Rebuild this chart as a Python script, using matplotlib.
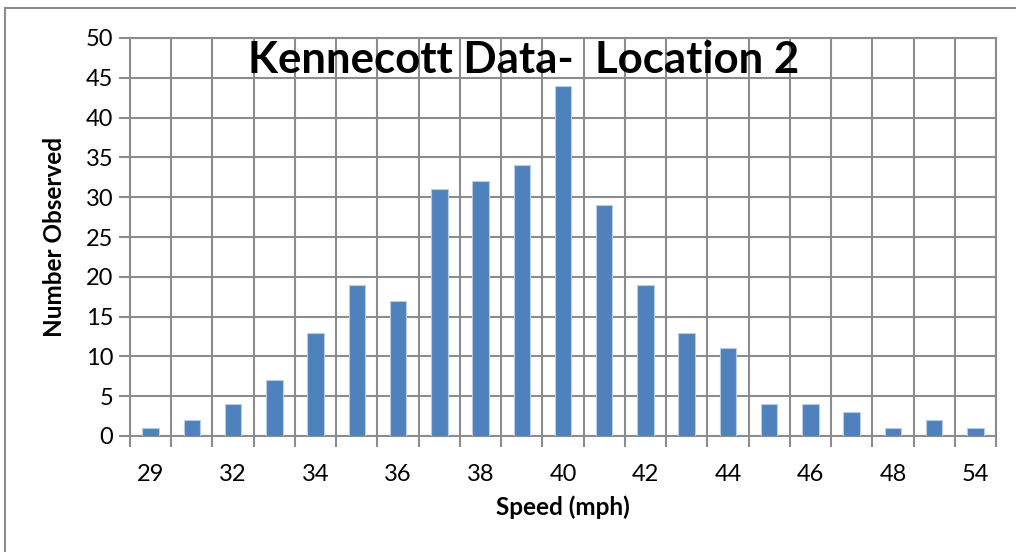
import numpy as np
import matplotlib
matplotlib.use("Agg")
import matplotlib.pyplot as plt
from matplotlib.patches import Rectangle

speeds = [29, 31, 32, 33, 34, 35, 36, 37, 38, 39, 40, 41, 42, 43, 44, 45, 46, 47, 48, 50, 54]
counts = [1, 2, 4, 7, 13, 19, 17, 31, 32, 34, 44, 29, 19, 13, 11, 4, 4, 3, 1, 2, 1]
shown_labels = ['29', '', '32', '', '34', '', '36', '', '38', '', '40', '', '42', '', '44', '', '46', '', '48', '', '54']

plt.rcParams['font.family'] = ['Lato', 'DejaVu Sans']
grid_col = '#8c8c8c'

fig = plt.figure(figsize=(10.16, 5.52), dpi=100)
ax = fig.add_axes([130 / 1016, 1 - 436 / 552, (996 - 130) / 1016, (436 - 38) / 552])

# outer chart border
fig.patches.append(Rectangle((5 / 1016, -0.1), 1.2, 1 - 8 / 552 + 0.1, transform=fig.transFigure,
                             fill=False, edgecolor='#8c8c8c', linewidth=1.5))

index = np.arange(len(speeds))
ax.bar(index, counts, 0.4, color='#4F81BD', edgecolor='#b9cde5', linewidth=0.8, zorder=3)

ax.set_xlim(-0.5, len(speeds) - 0.5)
ax.set_ylim(0, 50)
ax.set_yticks(np.arange(0, 51, 5))
ax.tick_params(axis='y', labelsize=17, length=8, color=grid_col, width=1.5, pad=4)

ax.set_xticks(index)
ax.set_xticklabels(shown_labels)
ax.set_xticks(np.arange(-0.5, len(speeds), 1), minor=True)
ax.tick_params(axis='x', which='major', length=0, labelsize=17, pad=20)
ax.tick_params(axis='x', which='minor', length=8, color=grid_col, width=1.5)

ax.grid(True, axis='y', color=grid_col, linewidth=1.5, zorder=0)
ax.grid(True, axis='x', which='minor', color=grid_col, linewidth=1.5, zorder=0)
for s in ax.spines.values():
    s.set_color(grid_col)
    s.set_linewidth(1.5)

ax.set_xlabel('Speed (mph)', fontsize=17.5, fontweight='bold', labelpad=8)
ax.set_ylabel('Number Observed', fontsize=17.5, fontweight='bold', labelpad=14)
fig.text(524 / 1016, 1 - 60 / 552, 'Kennecott Data-  Location 2', fontsize=31.5, fontweight='bold',
         ha='center', va='center')

fig.savefig('out.png', dpi=100)
